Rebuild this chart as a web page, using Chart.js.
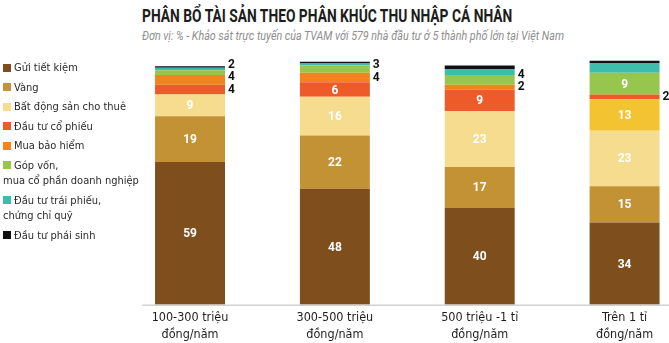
<!DOCTYPE html>
<html lang="vi">
<head>
<meta charset="utf-8">
<title>Phân bổ tài sản theo phân khúc thu nhập cá nhân</title>
<script src="https://cdn.jsdelivr.net/npm/chart.js@4/dist/chart.umd.min.js"></script>
<style>
  body { margin: 0; width: 669px; height: 343px; overflow: hidden; background: #fff; position: relative; }
  canvas { position: absolute; left: 0; top: 0; }
  #tieu-de { position: absolute; left: 142px; top: 4px; font: bold 19px Roboto, sans-serif; color: #1c1c1c; white-space: nowrap; transform-origin: 0 0; }
  #phu-de { position: absolute; left: 142px; top: 29px; font: italic 12px Roboto, sans-serif; color: #8e8e8e; white-space: nowrap; transform-origin: 0 0; }
  #chu-giai { position: absolute; left: 3px; top: 60px; font: 11px 'Liberation Sans Narrow', 'DejaVu Sans Condensed', sans-serif; color: #2a2a2a; z-index: 2; }
  #chu-giai div { line-height: 15.5px; margin-bottom: 4px; white-space: pre-line; }
  #chu-giai span { display: inline-block; width: 8px; height: 8px; margin-right: 3px; vertical-align: -0.5px; }
</style>
</head>
<body>
<div id="tieu-de">PHÂN BỔ TÀI SẢN THEO PHÂN KHÚC THU NHẬP CÁ NHÂN</div>
<div id="phu-de">Đơn vị: % - Khảo sát trực tuyến của TVAM với 579 nhà đầu tư ở 5 thành phố lớn tại Việt Nam</div>
<div id="chu-giai"></div>
<canvas id="bieuDo" width="700" height="350"></canvas>
<script>
// phân khúc thu nhập (trục x)
const phanKhuc = [
    ['100-300 triệu', 'đồng/năm'],
    ['300-500 triệu', 'đồng/năm'],
    ['500 triệu -1 tỉ', 'đồng/năm'],
    ['Trên 1 tỉ', 'đồng/năm']
];

// tỷ trọng từng kênh, %
const guiTietKiem = [59, 48, 40, 34];
const vang = [19, 22, 17, 15];
const batDongSan = [9, 16, 23, 23];
const coPhieu = [4, 6, 9, 13];
const baoHiem = [4, 4, 2, 2];
const gopVon = [2, 3, 4, 9];
const traiPhieu = [1, 1, 2.5, 4];
const phaiSinh = [0.7, 0.5, 1.5, 1];

const tenKenh = [
    'Gửi tiết kiệm',
    'Vàng',
    'Bất động sản cho thuê',
    'Đầu tư cổ phiếu',
    'Mua bảo hiểm',
    'Góp vốn,\nmua cổ phần doanh nghiệp',
    'Đầu tư trái phiếu,\nchứng chỉ quỹ',
    'Đầu tư phái sinh'
];
const giaTri = [guiTietKiem, vang, batDongSan, coPhieu, baoHiem, gopVon, traiPhieu, phaiSinh];
const mau = ['#7e4f1c', '#c39234', '#f6dc8f', '#ee5a2a', '#f2831f', '#97c64f', '#3ebdad', '#111111'];

// cột "Trên 1 tỉ" tô khác ở hai khối giữa
const mauCot = (i) => {
    if (i === 3) return [mau[3], mau[3], mau[3], '#f3c332'];
    if (i === 4) return [mau[4], mau[4], mau[4], mau[3]];
    return mau[i];
};

const NHAN_FONT = 'bold 12px Roboto, sans-serif';

// chú giải bên trái
const chuGiai = document.getElementById('chu-giai');
tenKenh.forEach((ten, i) => {
    chuGiai.innerHTML += `<div><span style="background:${mau[i]}"></span>${ten}</div>`;
});

// ép tiêu đề vào đúng bề ngang
function epNgang(id, rong) {
    const el = document.getElementById(id);
    el.style.transform = `scaleX(${rong / el.offsetWidth})`;
}
epNgang('tieu-de', 370);
epNgang('phu-de', 422);

// số liệu trên từng khối: lớn thì ghi trắng bên trong, nhỏ thì ghi đen bên phải cột
const nhanGiaTri = {
    id: 'nhanGiaTri',
    afterDatasetsDraw(chart) {
        const ctx = chart.ctx;
        ctx.save();
        ctx.font = NHAN_FONT;
        ctx.textBaseline = 'middle';
        const benNgoai = {};
        chart.data.datasets.forEach((ds, i) => {
            if (!ds.coNhan) return;
            chart.getDatasetMeta(i).data.forEach((bar, j) => {
                const v = ds.data[j];
                const yGiua = (bar.y + bar.base) / 2;
                if (v >= 5) {
                    ctx.fillStyle = '#fff';
                    ctx.textAlign = 'center';
                    ctx.fillText(v, bar.x, yGiua + 1);
                } else {
                    (benNgoai[j] = benNgoai[j] || []).push({ v, y: yGiua, x: bar.x + bar.width / 2 + 3 });
                }
            });
        });
        ctx.fillStyle = '#111';
        ctx.textAlign = 'left';
        Object.values(benNgoai).forEach(ds => {
            let yTruoc = Infinity;
            ds.forEach(n => {
                const y = Math.min(n.y, yTruoc - 12.5);
                ctx.fillText(n.v, n.x, y);
                yTruoc = y;
            });
        });
        ctx.restore();
    }
};

// đường nền dưới các cột
const duongNen = {
    id: 'duongNen',
    afterDatasetsDraw(chart) {
        const ctx = chart.ctx;
        const y = chart.scales.y.getPixelForValue(0);
        ctx.save();
        ctx.strokeStyle = '#d2d2d2';
        ctx.lineWidth = 1.5;
        ctx.beginPath();
        ctx.moveTo(142, y + 0.5);
        ctx.lineTo(chart.width, y + 0.5);
        ctx.stroke();
        ctx.restore();
    }
};

new Chart(document.getElementById('bieuDo'), {
    type: 'bar',
    data: {
        labels: phanKhuc,
        datasets: tenKenh.map((ten, i) => ({
            label: ten.replace('\n', ' '),
            data: giaTri[i],
            backgroundColor: mauCot(i),
            borderWidth: 0,
            barPercentage: 0.483,
            categoryPercentage: 1,
            coNhan: i < 6
        }))
    },
    options: {
        responsive: false,
        animation: false,
        layout: { padding: { left: 117.6, right: 3, top: 60.6, bottom: 1.6 } },
        plugins: { legend: { display: false }, tooltip: { enabled: false } },
        scales: {
            x: {
                stacked: true,
                grid: { display: false, drawTicks: false },
                border: { display: false },
                ticks: {
                    color: '#1e1e1e',
                    padding: 4.6,
                    font: { family: "'Liberation Sans Narrow', 'DejaVu Sans Condensed', sans-serif", size: 12.5, lineHeight: 1.38 }
                }
            },
            y: { stacked: true, display: false, min: 0, max: 101 }
        }
    },
    plugins: [nhanGiaTri, duongNen]
});
</script>
</body>
</html>
